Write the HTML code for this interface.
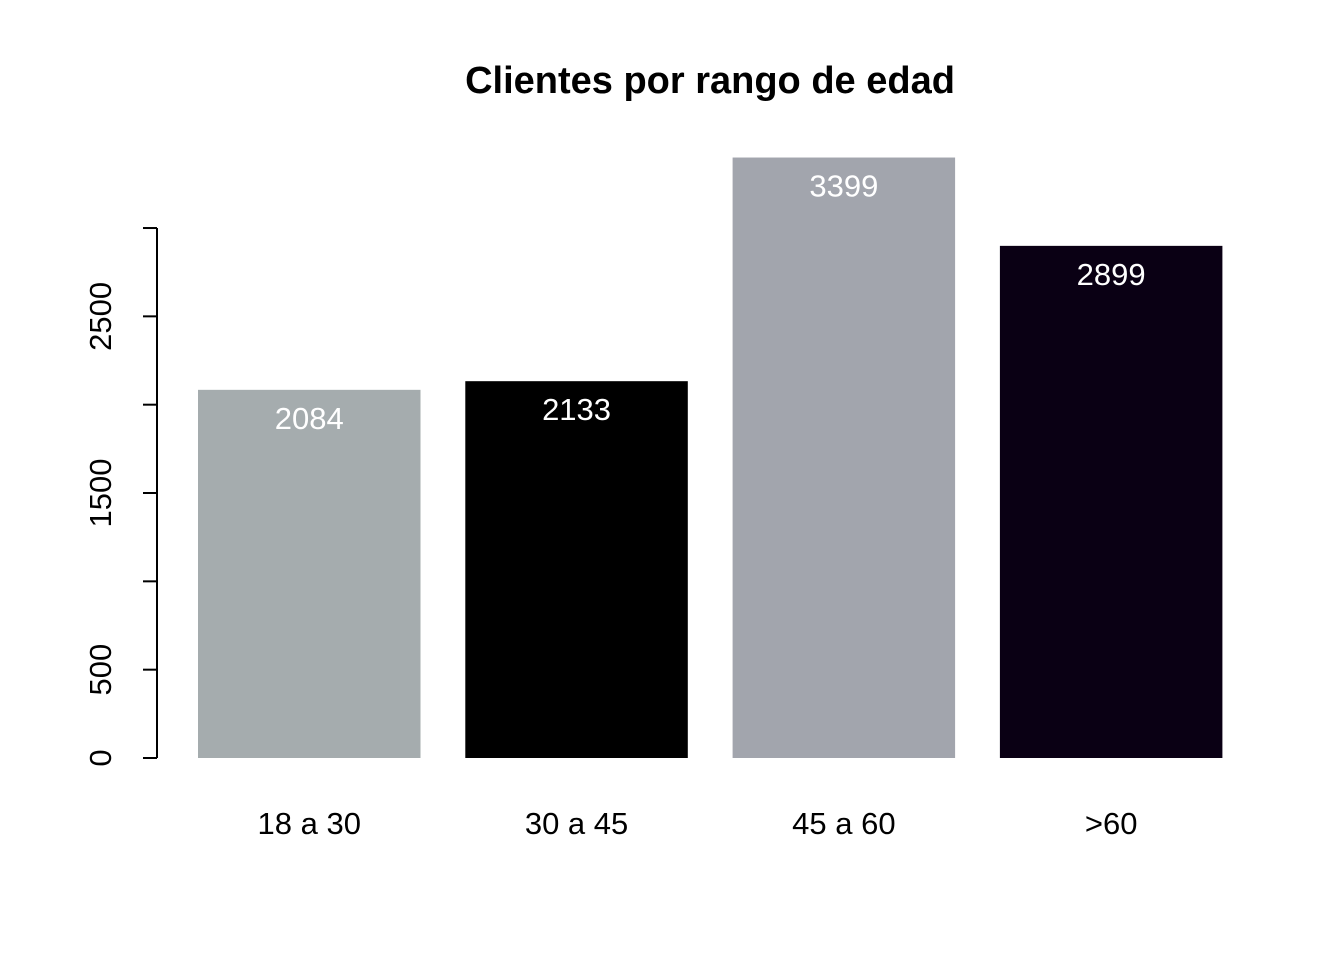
<!DOCTYPE html>
<html><head><meta charset="utf-8"><style>
body{margin:0;background:#fff}
svg{display:block;font-family:"Liberation Sans",Arial,sans-serif}
</style></head><body>
<svg id="c" width="1344" height="960">
<text x="710" y="93" text-anchor="middle" font-size="38" font-weight="bold">Clientes por rango de edad</text>
<g id="bars"></g><g id="yaxis"></g>
</svg>
<script>
const categories=["18 a 30","30 a 45","45 a 60",">60"];
const values=[2084,2133,3399,2899];
const colors=["#a5acae","#000000","#a2a5ad","#0a0014"];
const yTicks=[0,500,1000,1500,2000,2500,3000];
const yTickLabels=["0","500","","1500","","2500",""];
const NS="http://www.w3.org/2000/svg";
const y0=758, pxPer=88.33/500;
const y=v=>y0-v*pxPer;
const x=i=>198+i*267.3;
const bw=222.5;
function mk(t,a,p){const e=document.createElementNS(NS,t);for(const k in a)e.setAttribute(k,a[k]);p.appendChild(e);return e;}
const bars=document.getElementById("bars");
values.forEach((v,i)=>{
 const r=mk("rect",{x:x(i),y:y(v),width:bw,height:y0-y(v),fill:colors[i]},bars);
 
 
 const t=mk("text",{x:x(i)+bw/2,y:y(v)+39,"text-anchor":"middle","font-size":"31",fill:"#fff"},bars);
 t.textContent=v;
 
 
 const c=mk("text",{x:x(i)+bw/2,y:834,"text-anchor":"middle","font-size":"31",fill:"#000"},bars);
 c.textContent=categories[i];
 
 
});
const ya=document.getElementById("yaxis");
const al=mk("line",{x1:157,x2:157,y1:y(yTicks[0]),y2:y(yTicks[yTicks.length-1]),stroke:"#000","stroke-width":2},ya);


yTicks.forEach((v,i)=>{
 const l=mk("line",{x1:143,x2:157,y1:y(v),y2:y(v),stroke:"#000","stroke-width":2},ya);
 
 
 if(yTickLabels[i]){
  const t=mk("text",{transform:`translate(111,${y(v)}) rotate(-90)`,"text-anchor":"middle","font-size":"31"},ya);
  t.textContent=yTickLabels[i];
  
  
 }
});
</script>
</body></html>
